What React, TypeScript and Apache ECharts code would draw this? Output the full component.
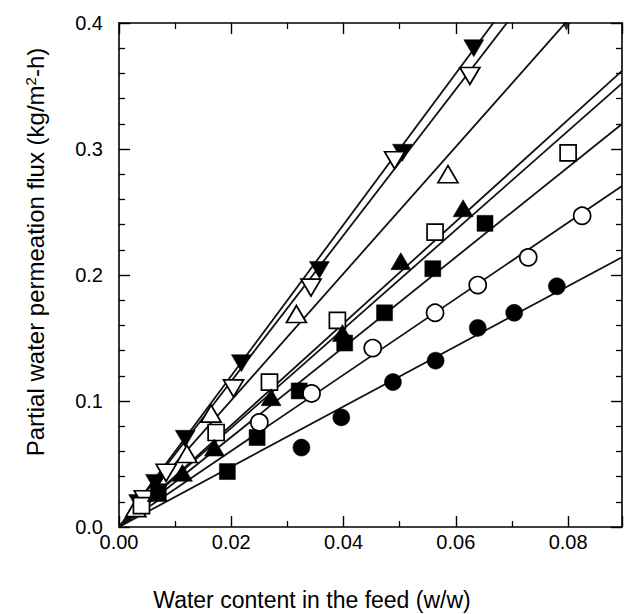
import React, { useEffect, useRef } from "react";
import * as echarts from "echarts";

// ---- data ----
const xTickLabels = ["0.00", "0.02", "0.04", "0.06", "0.08"];
const yTickLabels = ["0.0", "0.1", "0.2", "0.3", "0.4"];

const filledDown: number[][] = [
  [0.0035, 0.019], [0.0065, 0.035], [0.0118, 0.070], [0.0218, 0.130],
  [0.0357, 0.204], [0.0505, 0.297], [0.0632, 0.380],
];
const openDown: number[][] = [
  [0.0045, 0.022], [0.0084, 0.043], [0.0204, 0.110], [0.0342, 0.190],
  [0.0491, 0.291], [0.0625, 0.358],
];
const openUp: number[][] = [
  [0.0030, 0.015], [0.0121, 0.058], [0.0164, 0.090], [0.0316, 0.169],
  [0.0586, 0.280],
];
const openSquare: number[][] = [
  [0.0040, 0.017], [0.0173, 0.075], [0.0268, 0.115], [0.0389, 0.164],
  [0.0563, 0.234], [0.0800, 0.297],
];
const filledUp: number[][] = [
  [0.0068, 0.027], [0.0113, 0.043], [0.0170, 0.063], [0.0271, 0.103],
  [0.0398, 0.154], [0.0502, 0.211], [0.0613, 0.253],
];
const filledSquare: number[][] = [
  [0.0070, 0.028], [0.0193, 0.044], [0.0246, 0.071], [0.0321, 0.108],
  [0.0402, 0.146], [0.0473, 0.170], [0.0559, 0.205], [0.0652, 0.241],
];
const openCircle: number[][] = [
  [0.0250, 0.083], [0.0343, 0.106], [0.0452, 0.142], [0.0563, 0.170],
  [0.0639, 0.192], [0.0729, 0.214], [0.0825, 0.247],
];
const filledCircle: number[][] = [
  [0.0325, 0.063], [0.0396, 0.087], [0.0488, 0.115], [0.0564, 0.132],
  [0.0639, 0.158], [0.0704, 0.170], [0.0780, 0.191],
];
const topEdgeMark: number[][] = [[0.0797, 0.397]];

// fitted lines through the origin: flux = slope * content
const fitSlopes = [6.0, 5.79, 5.03, 4.04, 3.93, 3.57, 3.02, 2.39];

const X_MAX = 0.0896;
const Y_MAX = 0.4;

const FONT = "'Liberation Sans', Arial, Helvetica, sans-serif";

type Spec = {
  name: string;
  data: number[][];
  symbol: string;
  rotate: number;
  size: number | number[];
  filled: boolean;
};

const TRI = [20, 17];
const markerSeries: Spec[] = [
  { name: "filledDown", data: filledDown, symbol: "triangle", rotate: 180, size: TRI, filled: true },
  { name: "openDown", data: openDown, symbol: "triangle", rotate: 180, size: TRI, filled: false },
  { name: "openUp", data: openUp, symbol: "triangle", rotate: 0, size: TRI, filled: false },
  { name: "openSquare", data: openSquare, symbol: "rect", rotate: 0, size: 16, filled: false },
  { name: "filledUp", data: filledUp, symbol: "triangle", rotate: 0, size: TRI, filled: true },
  { name: "filledSquare", data: filledSquare, symbol: "rect", rotate: 0, size: 16, filled: true },
  { name: "openCircle", data: openCircle, symbol: "circle", rotate: 0, size: 17, filled: false },
  { name: "filledCircle", data: filledCircle, symbol: "circle", rotate: 0, size: 17, filled: true },
];

export default function App() {
  const ref = useRef<HTMLDivElement>(null);

  useEffect(() => {
    document.body.style.margin = "0";
    if (!ref.current) return;
    const chart = echarts.init(ref.current, undefined, { renderer: "svg" });

    const axisCommon = {
      type: "value" as const,
      axisLine: { show: true, onZero: false, lineStyle: { color: "#000", width: 1.6 } },
      axisTick: { show: true, inside: true, length: 11, lineStyle: { color: "#000", width: 1.4 } },
      minorTick: { show: true, length: 6, lineStyle: { color: "#000", width: 1.3 } },
      splitLine: { show: false },
      minorSplitLine: { show: false },
    };

    const isTick = (v: number, step: number) =>
      Math.abs(v / step - Math.round(v / step)) < 1e-6;

    const lineSeries = fitSlopes.map((k, i) => ({
      type: "line" as const,
      name: "fit" + i,
      data: [
        [0, 0],
        [X_MAX, k * X_MAX],
      ],
      showSymbol: false,
      symbol: "none",
      clip: true,
      lineStyle: { color: "#111", width: 1.8 },
      z: 2,
      silent: true,
    }));

    const scatterSeries = markerSeries.map((s) => ({
      type: "scatter" as const,
      name: s.name,
      data: s.data,
      symbol: s.symbol,
      symbolRotate: s.rotate,
      symbolSize: s.size,
      itemStyle: {
        color: s.filled ? "#000" : "#fff",
        borderColor: "#000",
        borderWidth: s.filled ? 0.5 : 1.7,
        opacity: 1,
      },
      z: 3,
      silent: true,
    }));

    chart.setOption({
      animation: false,
      backgroundColor: "#fff",
      textStyle: { fontFamily: FONT },
      grid: { left: 119, right: 2, top: 23, bottom: 87, containLabel: false },
      xAxis: [
        {
          ...axisCommon,
          position: "bottom",
          min: 0,
          max: X_MAX,
          interval: 0.02,
          minorTick: { ...axisCommon.minorTick, splitNumber: 2 },
          axisLabel: {
            show: true,
            color: "#000",
            fontSize: 20,
            fontFamily: FONT,
            margin: 5,
            showMaxLabel: false,
            formatter: (v: number) => {
              if (!isTick(v, 0.02)) return "";
              const idx = Math.round(v / 0.02);
              return xTickLabels[idx] ?? "";
            },
          },
        },
        {
          ...axisCommon,
          position: "top",
          min: 0,
          max: X_MAX,
          interval: 0.02,
          minorTick: { ...axisCommon.minorTick, splitNumber: 2 },
          axisLabel: { show: false },
        },
      ],
      yAxis: [
        {
          ...axisCommon,
          position: "left",
          min: 0,
          max: Y_MAX,
          interval: 0.1,
          minorTick: { ...axisCommon.minorTick, splitNumber: 5 },
          axisLabel: {
            show: true,
            color: "#000",
            fontSize: 20,
            fontFamily: FONT,
            margin: 16,
            formatter: (v: number) => {
              if (!isTick(v, 0.1)) return "";
              const idx = Math.round(v / 0.1);
              return yTickLabels[idx] ?? "";
            },
          },
        },
        {
          ...axisCommon,
          position: "right",
          min: 0,
          max: Y_MAX,
          interval: 0.1,
          minorTick: { ...axisCommon.minorTick, splitNumber: 5 },
          axisLabel: { show: false },
        },
      ],
      series: [
        ...lineSeries,
        ...scatterSeries,
        {
          type: "scatter",
          name: "topEdgeMark",
          data: topEdgeMark,
          symbol: "triangle",
          symbolRotate: 180,
          symbolSize: [8, 8],
          itemStyle: { color: "#000" },
          z: 3,
          silent: true,
        },
      ],
      graphic: [
        {
          type: "text",
          x: 312,
          y: 600,
          style: {
            text: "Water content in the feed (w/w)",
            fontSize: 23,
            fontFamily: FONT,
            fill: "#000",
            align: "center",
            verticalAlign: "middle",
          },
        },
        {
          type: "text",
          x: 35,
          y: 252,
          rotation: Math.PI / 2,
          style: {
            text: "{a|Partial water permeation flux (kg/m}{s|2}{a|-h)}",
            fill: "#000",
            align: "center",
            verticalAlign: "middle",
            rich: {
              a: { fontSize: 24, fontFamily: FONT, fill: "#000" },
              s: { fontSize: 15, fontFamily: FONT, fill: "#000", verticalAlign: "top" },
            },
          },
        },
      ],
    });

    return () => chart.dispose();
  }, []);

  return <div ref={ref} style={{ width: 624, height: 614 }} />;
}
